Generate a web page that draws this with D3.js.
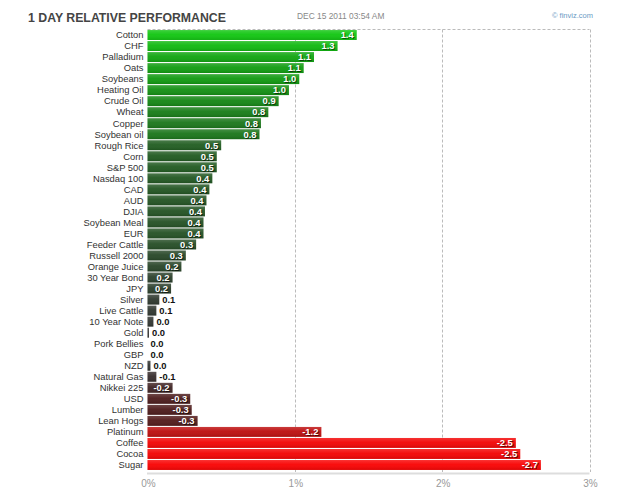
<!DOCTYPE html>
<html>
<head>
<meta charset="utf-8">
<script src="https://cdn.jsdelivr.net/npm/d3@7"></script>
<style>
  html, body { margin: 0; padding: 0; background: #fff; }
  svg { display: block; font-family: Arial, "Liberation Sans", sans-serif; }
</style>
</head>
<body>
<svg id="chart" width="625" height="493"></svg>
<script>
const titleText = "1 DAY RELATIVE PERFORMANCE";
const dateText = "DEC 15 2011 03:54 AM";
const creditText = "\u00A9 finviz.com";

const categories = ["Cotton","CHF","Palladium","Oats","Soybeans","Heating Oil","Crude Oil","Wheat","Copper","Soybean oil",
  "Rough Rice","Corn","S&P 500","Nasdaq 100","CAD","AUD","DJIA","Soybean Meal","EUR","Feeder Cattle",
  "Russell 2000","Orange Juice","30 Year Bond","JPY","Silver","Live Cattle","10 Year Note","Gold","Pork Bellies","GBP",
  "NZD","Natural Gas","Nikkei 225","USD","Lumber","Lean Hogs","Platinum","Coffee","Cocoa","Sugar"];
const values = [1.42,1.29,1.13,1.06,1.03,0.96,0.89,0.82,0.77,0.76,
  0.50,0.47,0.47,0.44,0.42,0.40,0.39,0.38,0.38,0.33,
  0.26,0.23,0.17,0.16,0.08,0.06,0.04,0.01,0.0,0.0,
  0.02,-0.06,-0.17,-0.29,-0.30,-0.34,-1.18,-2.50,-2.53,-2.67];
const tickValues = [0,1,2,3];
const tickLabels = ["0%","1%","2%","3%"];

const svg = d3.select("#chart");
const defs = svg.append("defs");
const grad = defs.append("linearGradient").attr("id","shine").attr("x1",0).attr("y1",0).attr("x2",0).attr("y2",1);
grad.append("stop").attr("offset","0%").attr("stop-color","#fff").attr("stop-opacity",0.18);
grad.append("stop").attr("offset","45%").attr("stop-color","#fff").attr("stop-opacity",0.04);
grad.append("stop").attr("offset","100%").attr("stop-color","#000").attr("stop-opacity",0.12);

const x = d3.scaleLinear().domain([0,3]).range([147.5, 589.5]);
const y = d3.scaleBand().domain(categories).range([29.5, 470.5]).paddingInner(0.1).paddingOuter(0.05);

const color = d3.scaleLinear()
  .domain([-2.7,-1.2,-0.3,0,0.4,0.8,1.0,1.4])
  .range(["#fa0404","#c01010","#4e1c1c","#333333","#245424","#1a7a1a","#129612","#12c612"])
  .clamp(true);

// Title texts
svg.append("text").attr("x",28).attr("y",21.5).attr("font-size",12.3).attr("font-weight","bold")
  .attr("fill","#444").text(titleText);
svg.append("text").attr("x",297).attr("y",18.5).attr("font-size",8.4).attr("fill","#888").text(dateText);
svg.append("text").attr("x",552).attr("y",18).attr("font-size",7.5).attr("fill","#6b9ac4").text(creditText);

// Grid
const gridTop = 29.5, gridBottom = 472;
svg.append("line").attr("x1",x(0)).attr("x2",x(3)).attr("y1",gridTop).attr("y2",gridTop)
  .attr("stroke","#bbb").attr("stroke-dasharray","3,2");
svg.selectAll("line.grid").data(tickValues.slice(1)).join("line").attr("class","grid")
  .attr("x1",d=>Math.round(x(d))+0.5).attr("x2",d=>Math.round(x(d))+0.5)
  .attr("y1",gridTop).attr("y2",gridBottom)
  .attr("stroke","#bbb").attr("stroke-dasharray","3,2");

// Axis baseline
svg.append("line").attr("x1",x(0)-0.5).attr("x2",x(3)).attr("y1",473.5).attr("y2",473.5)
  .attr("stroke","#ddd").attr("stroke-width",2);
svg.selectAll("text.tick").data(tickValues).join("text").attr("class","tick")
  .attr("x",d=>x(d)+1).attr("y",487).attr("text-anchor","middle")
  .attr("font-size",10).attr("fill","#999").text((d,i)=>tickLabels[i]);

const data = categories.map((c,i)=>({c, v: values[i]}));

// Category labels
svg.selectAll("text.cat").data(data).join("text").attr("class","cat")
  .attr("x",143.5).attr("y",d=>y(d.c)+y.bandwidth()/2).attr("dy","0.35em")
  .attr("text-anchor","end").attr("font-size",9.4).attr("fill","#333").text(d=>d.c);

// Bars
const bars = svg.selectAll("g.bar").data(data).join("g").attr("class","bar");
bars.append("rect").attr("x",x(0)).attr("y",d=>y(d.c))
  .attr("width",d=>x(Math.abs(d.v))-x(0)).attr("height",y.bandwidth())
  .attr("fill",d=>color(d.v));
bars.append("rect").attr("x",x(0)).attr("y",d=>y(d.c))
  .attr("width",d=>x(Math.abs(d.v))-x(0)).attr("height",y.bandwidth())
  .attr("fill","url(#shine)");

// Value labels
const fmt = v => v.toFixed(1) === "-0.0" ? "0.0" : v.toFixed(1);
data.forEach(d=>{
  const w = x(Math.abs(d.v))-x(0);
  const cy = y(d.c)+y.bandwidth()/2;
  const inside = w > 20;
  if (inside) {
    svg.append("text").attr("x",x(Math.abs(d.v))-3).attr("y",cy+1).attr("dy","0.35em")
      .attr("text-anchor","end").attr("font-size",9.4).attr("font-weight","bold")
      .attr("fill","#000").attr("fill-opacity",0.55).attr("dx",1).text(fmt(d.v));
    svg.append("text").attr("x",x(Math.abs(d.v))-3).attr("y",cy).attr("dy","0.35em")
      .attr("text-anchor","end").attr("font-size",9.4).attr("font-weight","bold")
      .attr("fill","#fff").text(fmt(d.v));
  } else {
    svg.append("text").attr("x",x(Math.abs(d.v))+3).attr("y",cy).attr("dy","0.35em")
      .attr("text-anchor","start").attr("font-size",9.4).attr("font-weight","bold")
      .attr("fill","#111").text(fmt(d.v));
  }
});
</script>
</body>
</html>
